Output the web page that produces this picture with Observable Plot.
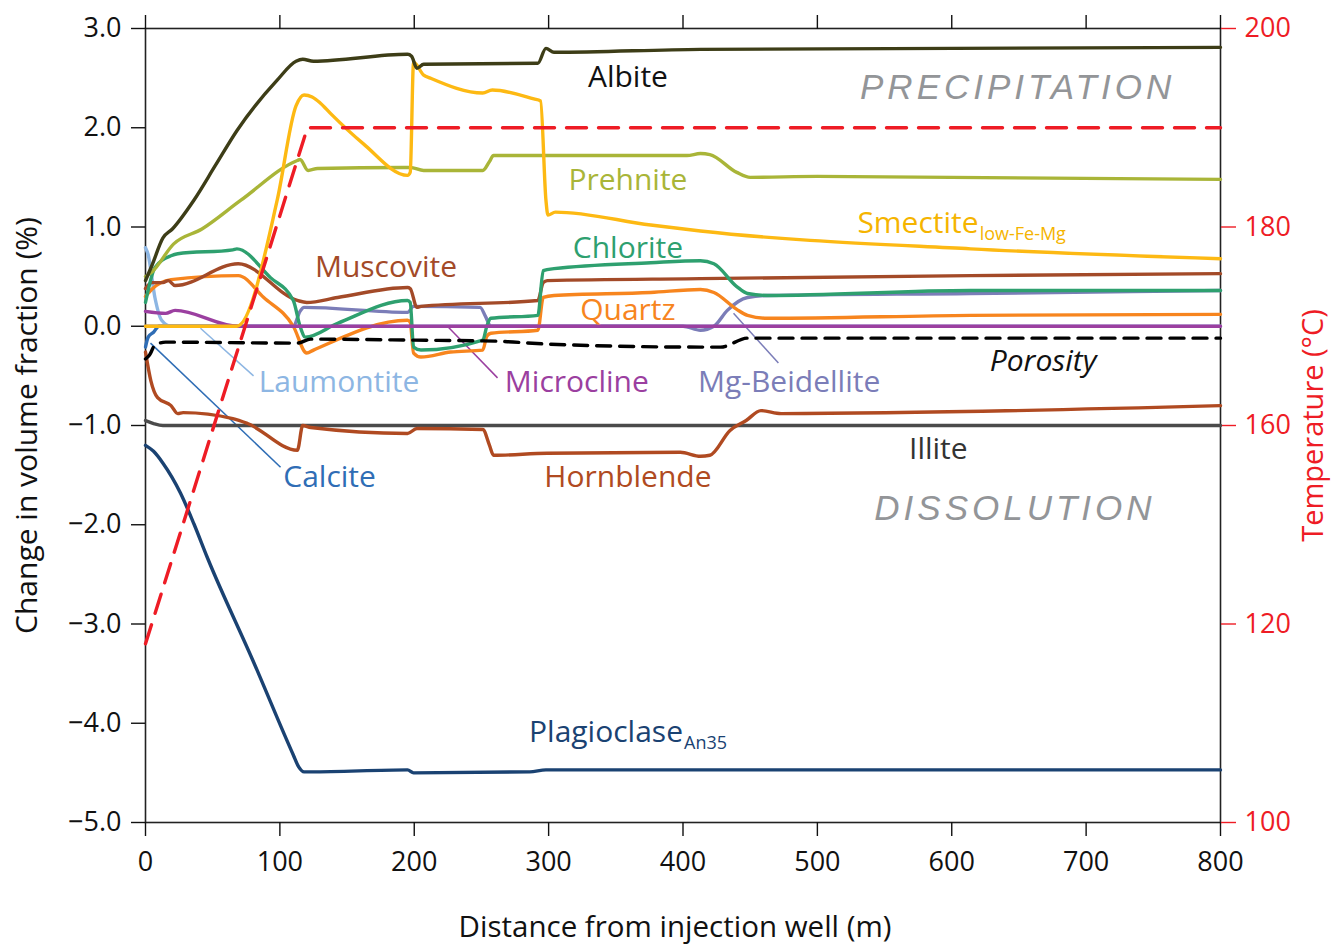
<!DOCTYPE html>
<html>
<head>
<meta charset="utf-8">
<script src="https://cdn.jsdelivr.net/npm/d3@7"></script>
<script src="https://cdn.jsdelivr.net/npm/@observablehq/plot@0.6"></script>
<style>
  body { margin: 0; background: #fff; }
  #chart svg { display: block; }
</style>
</head>
<body>
<div id="chart"></div>
<script>
// ---- Data (distance m, change in volume fraction %) ----
const albite = [[0,0.46],[5,0.62],[13,0.89],[20,0.98],[36,1.27],[52,1.62],[68,1.97],[98,2.48],[112,2.67],[117,2.69],[125,2.67],[195,2.74],[198,2.72],[202,2.60],[207,2.64],[292,2.65],[298,2.80],[304,2.76],[413,2.79],[800,2.81]];
const smectite = [[0,0],[68,0],[98,1.27],[112,2.22],[118,2.33],[124,2.31],[130,2.25],[138,2.14],[162,1.84],[195,1.52],[197,1.55],[199.5,2.66],[207,2.53],[212,2.50],[251,2.35],[258,2.38],[289,2.29],[294,2.27],[298,1.27],[299.5,1.12],[305,1.15],[376,1.02],[413,0.96],[614,0.78],[800,0.68]];
const prehnite = [[0,0.5],[5,0.55],[21,0.83],[42,0.98],[71,1.27],[113,1.67],[115,1.68],[121,1.57],[128,1.59],[192,1.60],[197,1.60],[207,1.57],[251,1.57],[256,1.66],[259,1.72],[403,1.72],[413,1.74],[420,1.73],[440,1.55],[450,1.50],[500,1.51],[800,1.48]];
const chlorite = [[0,0.24],[7,0.59],[19,0.71],[24,0.73],[65,0.77],[68,0.78],[93,0.49],[110,0.26],[115,0.0],[119,-0.11],[143,0.03],[195,0.26],[197,0.24],[199.5,-0.21],[205,-0.24],[251,-0.14],[254,0.0],[257,0.08],[292,0.11],[296,0.56],[304,0.58],[376,0.64],[413,0.66],[423,0.63],[440,0.40],[448,0.33],[463,0.31],[614,0.36],[800,0.36]];
const muscovite = [[0,0.38],[4.5,0.44],[13,0.44],[17,0.46],[22,0.41],[69,0.63],[113,0.26],[120,0.24],[143,0.29],[195,0.39],[197,0.38],[202,0.19],[205,0.20],[292,0.26],[296,0.44],[299,0.46],[413,0.48],[614,0.51],[800,0.53]];
const quartz = [[0,0.30],[4.5,0.37],[19,0.47],[69,0.51],[88,0.29],[110,0.0],[120,-0.27],[125,-0.24],[195,0.06],[197,0.04],[199.5,-0.27],[205,-0.31],[227,-0.26],[251,-0.24],[254,-0.10],[257,-0.07],[292,-0.04],[296,0.29],[304,0.31],[376,0.34],[413,0.37],[423,0.34],[440,0.17],[448,0.11],[463,0.08],[614,0.11],[800,0.12]];
const microcline = [[0,0.15],[15,0.13],[22,0.16],[69,0],[800,0]];
const beidellite = [[0,0],[110,0],[115,0.15],[118,0.19],[195,0.14],[199.5,0.20],[249,0.19],[253,0.10],[257,0],[400,0],[413,-0.04],[423,0.0],[433,0.16],[448,0.29],[463,0.31],[614,0.33],[800,0.36]];
const porosity = [[0,-0.33],[3,-0.29],[7,-0.19],[15,-0.16],[113,-0.17],[123,-0.13],[200,-0.14],[260,-0.15],[300,-0.18],[413,-0.21],[428,-0.21],[448,-0.12],[800,-0.12]];
const laumontite = [[0,0.79],[2,0.72],[7,0.29],[12,0.06],[19,0],[800,0]];
const calcite = [[0,-0.21],[2,-0.11],[6,-0.06],[10,0],[60,0]];
const hornblende = [[0,-0.26],[4,-0.55],[9,-0.72],[19,-0.80],[24,-0.88],[28,-0.87],[65,-0.93],[76,-0.98],[113,-1.25],[117,-1.0],[123,-1.02],[195,-1.08],[202,-1.03],[251,-1.04],[256,-1.2],[259,-1.30],[299,-1.28],[398,-1.27],[413,-1.31],[420,-1.30],[435,-1.05],[447,-0.95],[458,-0.85],[473,-0.88],[800,-0.80]];
const illite = [[0,-0.95],[6,-0.98],[13,-1.0],[800,-1.0]];
const plagioclase = [[0,-1.2],[6,-1.26],[13,-1.38],[26,-1.68],[36,-1.99],[46,-2.33],[80,-3.37],[110,-4.32],[114,-4.44],[118,-4.49],[123,-4.49],[195,-4.47],[199.5,-4.50],[286,-4.49],[298,-4.47],[800,-4.47]];
// temperature (°C)
const temperature = [[0,118],[120.5,190],[800,190]];

// ---- Tick labels ----
const xTicks = [0,100,200,300,400,500,600,700,800];
const yTicks = [-5,-4,-3,-2,-1,0,1,2,3];
const tempTicks = [100,120,160,180,200];   // right-axis labels as printed

// series styling
const series = [
  {name:"Calcite", data: calcite, color:"#2f6db5"},
  {name:"Laumontite", data: laumontite, color:"#8db6e3"},
  {name:"Mg-Beidellite", data: beidellite, color:"#7b7db8"},
  {name:"Illite", data: illite, color:"#4b4b4b"},
  {name:"Hornblende", data: hornblende, color:"#b04a21"},
  {name:"Plagioclase", data: plagioclase, color:"#1a4272"},
  {name:"Quartz", data: quartz, color:"#f7851e"},
  {name:"Muscovite", data: muscovite, color:"#a34a28"},
  {name:"Chlorite", data: chlorite, color:"#2ea06f"},
  {name:"Microcline", data: microcline, color:"#9b3fa0"},
  {name:"Prehnite", data: prehnite, color:"#a9b538"},
  {name:"Smectite", data: smectite, color:"#fdb913"},
  {name:"Albite", data: albite, color:"#3d3d17"}
];

// right axis calibration (temperature -> left-axis units), as printed on the figure
const tempToY = d3.scaleLinear().domain(tempTicks).range([-5,-3,-1,1,3]);
const RED = "#ee1c25";

const labels = [
  {t:"Albite", x:359, y:2.51, c:"#111"},
  {t:"Prehnite", x:359, y:1.47, c:"#a9b538"},
  {t:"Chlorite", x:359, y:0.78, c:"#2ea06f"},
  {t:"Muscovite", x:179, y:0.59, c:"#a34a28"},
  {t:"Quartz", x:359, y:0.16, c:"#f7851e"},
  {t:"Laumontite", x:144, y:-0.57, c:"#8db6e3"},
  {t:"Microcline", x:321, y:-0.57, c:"#9b3fa0"},
  {t:"Mg-Beidellite", x:479, y:-0.57, c:"#7b7db8"},
  {t:"Illite", x:590, y:-1.24, c:"#333"},
  {t:"Calcite", x:137, y:-1.52, c:"#2f6db5"},
  {t:"Hornblende", x:359, y:-1.52, c:"#b04a21"}
];
const mainSubLabels = [
  {t:"Smectite", x:620, y:1.04, c:"#f5b400"},
  {t:"Plagioclase", x:400, y:-4.09, c:"#1a4272"}
];
const subLabels = [
  {t:"low-Fe-Mg", x:620, y:1.04, c:"#f5b400"},
  {t:"An35", x:400, y:-4.09, c:"#1a4272"}
];
const leaders = [
  {x1:40.9, y1:-0.02, x2:80.4, y2:-0.50, c:"#8db6e3"},
  {x1:3.7, y1:-0.17, x2:100.5, y2:-1.42, c:"#2f6db5"},
  {x1:224.7, y1:0.0, x2:262, y2:-0.52, c:"#9b3fa0"},
  {x1:437.6, y1:0.13, x2:471, y2:-0.37, c:"#7b7db8"}
];

const rows = (arr) => arr.map(([x, y]) => ({x, y}));
const fmt = d => (d < 0 ? "\u2212" : "") + Math.abs(d).toFixed(1);
const FONT = "'Open Sans', 'Noto Sans', sans-serif";
const LF = 30;

const marks = [
  Plot.frame({stroke: "#222", strokeWidth: 1.6}),
  Plot.axisX({anchor: "bottom", ticks: xTicks, tickSize: 14, tickPadding: 15, fontSize: 27, label: null, strokeWidth: 1.4}),
  Plot.axisX({anchor: "top", ticks: xTicks, tickSize: 14, tickFormat: () => "", label: null, strokeWidth: 1.4}),
  Plot.axisY({anchor: "left", ticks: yTicks, tickSize: 14, tickPadding: 10, tickFormat: fmt, fontSize: 27, label: null, strokeWidth: 1.4}),
  Plot.axisY({anchor: "right", ticks: tempTicks.map(t => tempToY(t)), tickSize: 15, tickPadding: 9,
              tickFormat: v => String(Math.round(tempToY.invert(v))), fontSize: 27, label: null,
              stroke: RED, fill: RED, color: RED, strokeWidth: 1.4}),
  ...leaders.map(l => Plot.link([l], {x1: "x1", y1: "y1", x2: "x2", y2: "y2", stroke: l.c, strokeWidth: 1.5})),
  ...series.map(s => Plot.line(rows(s.data), {x: "x", y: "y", curve: "monotone-x", stroke: s.color, strokeWidth: 3.4, strokeLinejoin: "round", strokeLinecap: "round"})),
  Plot.line(rows(porosity), {x: "x", y: "y", curve: "monotone-x", stroke: "#000", strokeWidth: 3.4, strokeDasharray: "14,9"}),
  Plot.line(temperature.map(([x, t]) => ({x, y: tempToY(t)})), {x: "x", y: "y", stroke: RED, strokeWidth: 3.4, strokeDasharray: "20,12"}),
  Plot.text(labels, {x: "x", y: "y", text: "t", fill: "c", textAnchor: "middle", fontSize: LF}),
  Plot.text(mainSubLabels, {x: "x", y: "y", text: "t", fill: "c", textAnchor: "end", fontSize: LF}),
  Plot.text(subLabels, {x: "x", y: "y", text: "t", fill: "c", textAnchor: "start", fontSize: 18, dy: 11, dx: 1}),
  Plot.text(["Porosity"], {x: 668, y: -0.35, text: d => d, fill: "#111", fontSize: LF, fontStyle: "italic"}),
  Plot.text(["PRECIPITATION"], {x: 649, y: 2.40, text: d => d, fill: "#939598", fontSize: 35, fontStyle: "italic", fontFamily: "'Liberation Sans', Arial, sans-serif"}),
  Plot.text(["DISSOLUTION"], {x: 647, y: -1.84, text: d => d, fill: "#939598", fontSize: 35, fontStyle: "italic", fontFamily: "'Liberation Sans', Arial, sans-serif"}),
  Plot.text(["Distance from injection well (m)"], {frameAnchor: "bottom", dx: -8, dy: 105, textAnchor: "middle", lineAnchor: "middle", text: d => d, fontSize: 29.5, fill: "#111"}),
  Plot.text(["Change in volume fraction (%)"], {frameAnchor: "left", dx: -118, rotate: -90, textAnchor: "middle", lineAnchor: "middle", text: d => d, fontSize: 30, fill: "#111"}),
  Plot.text(["Temperature (\u00B0C)"], {frameAnchor: "right", dx: 93, rotate: -90, textAnchor: "middle", lineAnchor: "middle", text: d => d, fontSize: 29, fill: RED})
];

const chart = Plot.plot({
  width: 1333,
  height: 944,
  marginLeft: 145,
  marginRight: 113,
  marginTop: 28,
  marginBottom: 122,
  x: {domain: [0, 800]},
  y: {domain: [-5, 3]},
  color: {type: "identity"},
  style: {fontFamily: FONT, color: "#111", background: "#fff", overflow: "visible"},
  marks
});

// letter spacing for the region captions
chart.querySelectorAll("text").forEach(el => {
  if (el.textContent === "PRECIPITATION" || el.textContent === "DISSOLUTION") {
    el.setAttribute("letter-spacing", "4");
  }
});

document.getElementById("chart").appendChild(chart);
</script>
</body>
</html>
